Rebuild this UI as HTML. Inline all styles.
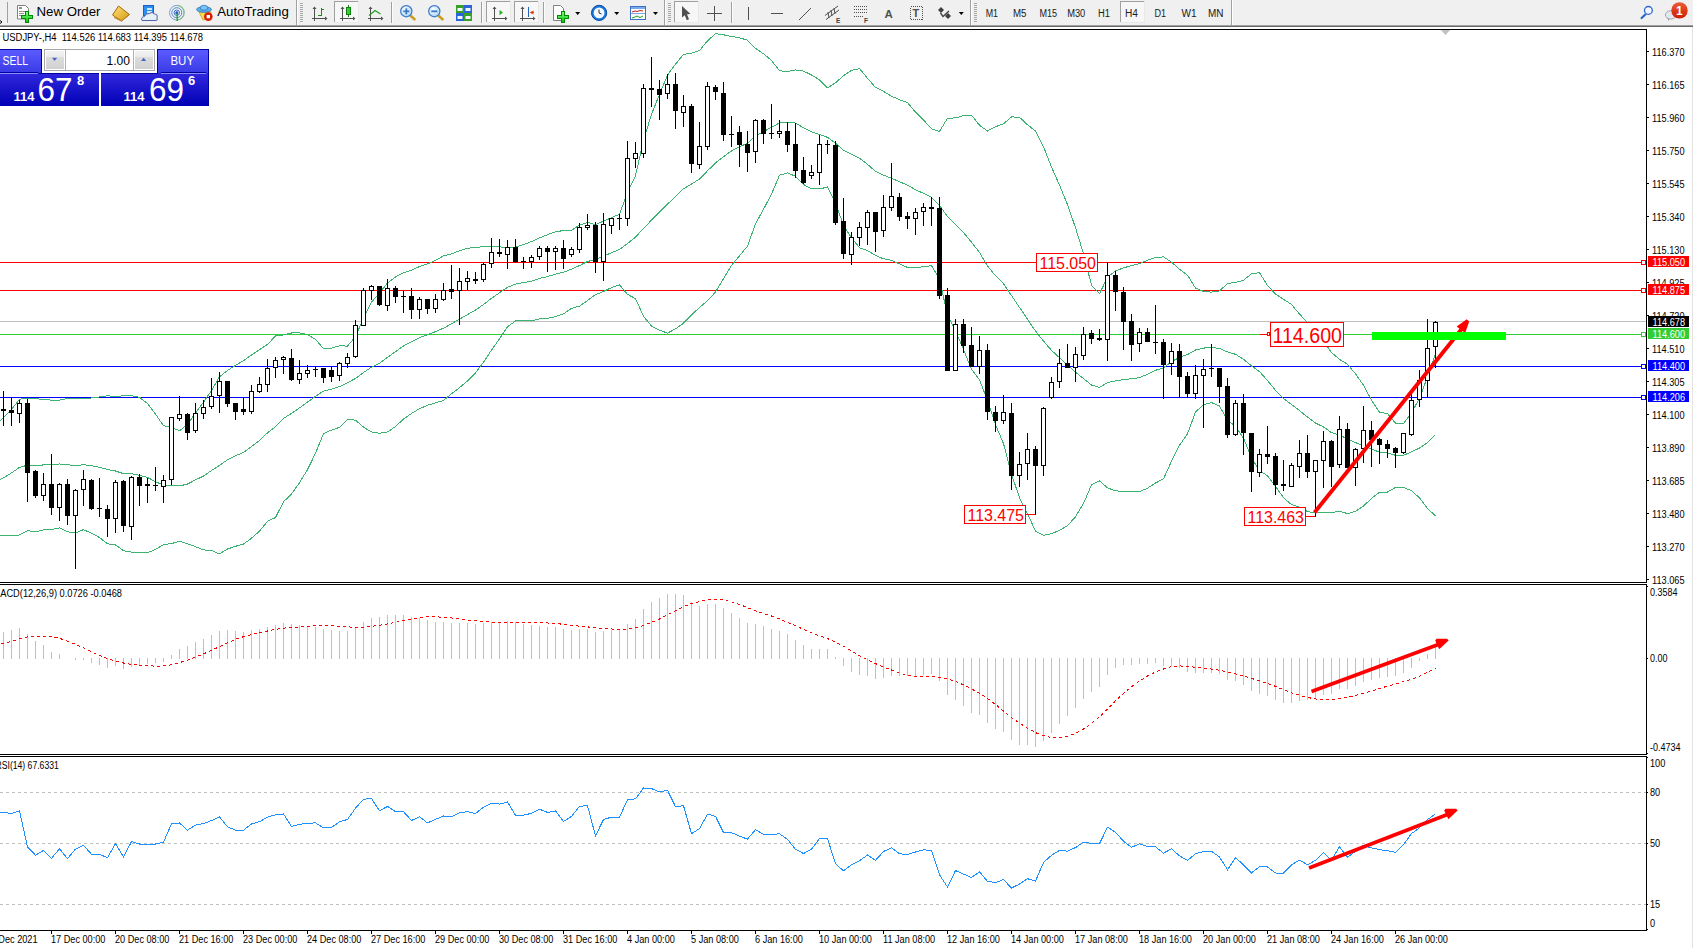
<!DOCTYPE html><html><head><meta charset="utf-8"><title>USDJPY-,H4</title><style>
html,body{margin:0;padding:0;background:#fff;}
#wrap{position:relative;width:1693px;height:948px;overflow:hidden;background:#fff;font-family:"Liberation Sans",Arial,sans-serif;}
svg{position:absolute;left:0;top:0;}
.t{font-family:"Liberation Sans",Arial,sans-serif;}
</style></head><body><div id="wrap">
<svg width="1693" height="29" viewBox="0 0 1693 29" style="position:absolute;left:0;top:0"><defs><linearGradient id="tbGold" x1="0" y1="0" x2="1" y2="1"><stop offset="0" stop-color="#ffe27a"/><stop offset="1" stop-color="#d49a10"/></linearGradient><linearGradient id="tbRed" x1="0" y1="0" x2="0" y2="1"><stop offset="0" stop-color="#ec5a38"/><stop offset="1" stop-color="#d01c00"/></linearGradient><radialGradient id="tbLens" cx="0.4" cy="0.35" r="0.7"><stop offset="0" stop-color="#ffffff"/><stop offset="1" stop-color="#a8d4f4"/></radialGradient><linearGradient id="tbGreen" x1="0" y1="0" x2="0" y2="1"><stop offset="0" stop-color="#7cff7c"/><stop offset="1" stop-color="#10c010"/></linearGradient></defs><rect x="0" y="0" width="1693" height="25" fill="#f0f0f0"/><rect x="0" y="25" width="1693" height="1" fill="#a0a0a0"/><rect x="0" y="26" width="1693" height="1" fill="#696969"/><rect x="0" y="27" width="1693" height="2" fill="#ffffff"/><g shape-rendering="crispEdges"><rect x="7" y="2" width="1" height="21" fill="#a0a0a0"/><rect x="296" y="0" width="1" height="25" fill="#a0a0a0"/><rect x="297" y="0" width="1" height="25" fill="#ffffff"/><rect x="300" y="3" width="3" height="1" fill="#a8a8a8"/><rect x="300" y="5" width="3" height="1" fill="#a8a8a8"/><rect x="300" y="7" width="3" height="1" fill="#a8a8a8"/><rect x="300" y="9" width="3" height="1" fill="#a8a8a8"/><rect x="300" y="11" width="3" height="1" fill="#a8a8a8"/><rect x="300" y="13" width="3" height="1" fill="#a8a8a8"/><rect x="300" y="15" width="3" height="1" fill="#a8a8a8"/><rect x="300" y="17" width="3" height="1" fill="#a8a8a8"/><rect x="300" y="19" width="3" height="1" fill="#a8a8a8"/><rect x="300" y="21" width="3" height="1" fill="#a8a8a8"/><rect x="391" y="2" width="1" height="21" fill="#a0a0a0"/><rect x="392" y="2" width="1" height="21" fill="#fcfcfc"/><rect x="481" y="2" width="1" height="21" fill="#a0a0a0"/><rect x="482" y="2" width="1" height="21" fill="#fcfcfc"/><rect x="543" y="2" width="1" height="21" fill="#a0a0a0"/><rect x="544" y="2" width="1" height="21" fill="#fcfcfc"/><rect x="664" y="0" width="1" height="25" fill="#a0a0a0"/><rect x="665" y="0" width="1" height="25" fill="#ffffff"/><rect x="668" y="3" width="3" height="1" fill="#a8a8a8"/><rect x="668" y="5" width="3" height="1" fill="#a8a8a8"/><rect x="668" y="7" width="3" height="1" fill="#a8a8a8"/><rect x="668" y="9" width="3" height="1" fill="#a8a8a8"/><rect x="668" y="11" width="3" height="1" fill="#a8a8a8"/><rect x="668" y="13" width="3" height="1" fill="#a8a8a8"/><rect x="668" y="15" width="3" height="1" fill="#a8a8a8"/><rect x="668" y="17" width="3" height="1" fill="#a8a8a8"/><rect x="668" y="19" width="3" height="1" fill="#a8a8a8"/><rect x="668" y="21" width="3" height="1" fill="#a8a8a8"/><rect x="731" y="2" width="1" height="21" fill="#a0a0a0"/><rect x="732" y="2" width="1" height="21" fill="#fcfcfc"/><rect x="970" y="0" width="1" height="25" fill="#a0a0a0"/><rect x="971" y="0" width="1" height="25" fill="#ffffff"/><rect x="974" y="3" width="3" height="1" fill="#a8a8a8"/><rect x="974" y="5" width="3" height="1" fill="#a8a8a8"/><rect x="974" y="7" width="3" height="1" fill="#a8a8a8"/><rect x="974" y="9" width="3" height="1" fill="#a8a8a8"/><rect x="974" y="11" width="3" height="1" fill="#a8a8a8"/><rect x="974" y="13" width="3" height="1" fill="#a8a8a8"/><rect x="974" y="15" width="3" height="1" fill="#a8a8a8"/><rect x="974" y="17" width="3" height="1" fill="#a8a8a8"/><rect x="974" y="19" width="3" height="1" fill="#a8a8a8"/><rect x="974" y="21" width="3" height="1" fill="#a8a8a8"/><rect x="1231" y="0" width="1" height="25" fill="#a0a0a0"/><rect x="1232" y="0" width="1" height="25" fill="#ffffff"/><rect x="334" y="1" width="25" height="22" fill="#f7f7f7"/><rect x="334" y="1" width="25" height="1" fill="#a0a0a0"/><rect x="334" y="1" width="1" height="22" fill="#a0a0a0"/><rect x="358" y="1" width="1" height="22" fill="#e8e8e8"/><rect x="334" y="22" width="25" height="1" fill="#e8e8e8"/><rect x="486" y="1" width="25" height="22" fill="#f7f7f7"/><rect x="486" y="1" width="25" height="1" fill="#a0a0a0"/><rect x="486" y="1" width="1" height="22" fill="#a0a0a0"/><rect x="510" y="1" width="1" height="22" fill="#e8e8e8"/><rect x="486" y="22" width="25" height="1" fill="#e8e8e8"/><rect x="514" y="1" width="25" height="22" fill="#f7f7f7"/><rect x="514" y="1" width="25" height="1" fill="#a0a0a0"/><rect x="514" y="1" width="1" height="22" fill="#a0a0a0"/><rect x="538" y="1" width="1" height="22" fill="#e8e8e8"/><rect x="514" y="22" width="25" height="1" fill="#e8e8e8"/><rect x="674" y="1" width="25" height="22" fill="#f7f7f7"/><rect x="674" y="1" width="25" height="1" fill="#a0a0a0"/><rect x="674" y="1" width="1" height="22" fill="#a0a0a0"/><rect x="698" y="1" width="1" height="22" fill="#e8e8e8"/><rect x="674" y="22" width="25" height="1" fill="#e8e8e8"/><rect x="1120" y="1" width="25" height="22" fill="#f7f7f7"/><rect x="1120" y="1" width="25" height="1" fill="#a0a0a0"/><rect x="1120" y="1" width="1" height="22" fill="#a0a0a0"/><rect x="1144" y="1" width="1" height="22" fill="#e8e8e8"/><rect x="1120" y="22" width="25" height="1" fill="#e8e8e8"/></g><polyline points="0,20.5 2,22 0,23.5" fill="none" stroke="#000" stroke-width="1"/><path d="M17.5 5.5h8l3 3v10.5h-11z" fill="#fff" stroke="#808080" stroke-width="1"/><g fill="#909090" shape-rendering="crispEdges"><rect x="19" y="7" width="3" height="2"/><rect x="19" y="11" width="6" height="1"/><rect x="19" y="13" width="5" height="1"/><rect x="19" y="15" width="4" height="1"/></g><g shape-rendering="crispEdges"><path fill="#008a00" d="M25 11h4v4h4v4h-4v4h-4v-4h-4v-4h4z"/><path fill="url(#tbGreen)" d="M26 12h2v4h4v2h-4v4h-2v-4h-4v-2h4z"/></g><text x="36.5" y="16" font-size="12.5" fill="#000" font-family="Liberation Sans, Arial, sans-serif" textLength="64" lengthAdjust="spacingAndGlyphs">New Order</text><polygon points="112.5,15 118.5,6 129.5,14.5 121.5,21" fill="url(#tbGold)" stroke="#a8680c" stroke-width="1"/><polyline points="114,17.5 121.5,21 129.5,14.5" fill="none" stroke="#c08020" stroke-width="1"/><rect x="143.5" y="5.5" width="10" height="10" fill="#2e8ef0" stroke="#1a60c0"/><rect x="147" y="8" width="5" height="2" fill="#cfe6ff"/><rect x="147" y="11" width="5" height="2" fill="#cfe6ff"/><path d="M142 20.5 q-1.5-3.5 2.5-4 q1-3.5 5-3 q2.5-2.5 5 0.5 q3.5 0 2.5 4 q1 2.5-1 2.5 z" fill="#e8eef8" stroke="#4866a8" stroke-width="1"/><g fill="none" stroke-width="1"><circle cx="176.8" cy="12.7" r="7.3" stroke="#7aa0d8"/><circle cx="176.8" cy="12.7" r="5" stroke="#5a88d0"/><circle cx="176.8" cy="12.7" r="2.7" stroke="#3a70c8"/></g><path d="M176.8 5.4 a7.3 7.3 0 0 1 0 14.6" fill="none" stroke="#8ac08a" stroke-width="1.2"/><circle cx="176.8" cy="12.7" r="1.5" fill="#2050c0"/><rect x="176.5" y="13" width="1.3" height="8" fill="#20a020"/><path d="M199 12 L211 12 L208 19 L203 20 Z" fill="#f8dc50" stroke="#c8a020" stroke-width="0.8"/><ellipse cx="204" cy="9.5" rx="7.5" ry="2.8" fill="#5aaee8" stroke="#2a78c0" stroke-width="0.8"/><ellipse cx="204" cy="7.8" rx="3.8" ry="2.5" fill="#7cc4f4" stroke="#2a78c0" stroke-width="0.8"/><circle cx="208.3" cy="16.6" r="4.3" fill="#d81c00"/><rect x="206.6" y="14.9" width="3.4" height="3.4" fill="#fff"/><text x="217.3" y="15.8" font-size="12.5" fill="#000" font-family="Liberation Sans, Arial, sans-serif" textLength="71.5" lengthAdjust="spacingAndGlyphs">AutoTrading</text><g fill="#505050"><rect x="314" y="7" width="1" height="14"/><rect x="312" y="18" width="14" height="1"/><polygon points="312.5,9 314.5,6.5 316.5,9"/><polygon points="325,16.5 327.5,18.5 325,20.5"/></g><g fill="#109010"><rect x="321" y="8" width="1" height="8"/><rect x="318" y="15" width="3" height="1"/><rect x="322" y="9" width="2" height="1"/></g><g fill="#505050"><rect x="342" y="7" width="1" height="14"/><rect x="340" y="18" width="14" height="1"/><polygon points="340.5,9 342.5,6.5 344.5,9"/><polygon points="353,16.5 355.5,18.5 353,20.5"/></g><rect x="348" y="5" width="1" height="12" fill="#108010"/><rect x="346.5" y="7.5" width="4" height="7" fill="#30d030" stroke="#108010"/><g fill="#505050"><rect x="370" y="7" width="1" height="14"/><rect x="368" y="18" width="14" height="1"/><polygon points="368.5,9 370.5,6.5 372.5,9"/><polygon points="381,16.5 383.5,18.5 381,20.5"/></g><polyline points="369,15.5 375,10.5 380.5,14" fill="none" stroke="#20a020" stroke-width="1.2"/><line x1="409.8" y1="15" x2="415.3" y2="20" stroke="#c8a020" stroke-width="2.6"/><circle cx="406.3" cy="11.2" r="5.6" fill="url(#tbLens)" stroke="#3a78c8" stroke-width="1.2"/><rect x="403.3" y="10.4" width="6" height="1.8" fill="#3a78c8"/><rect x="405.40000000000003" y="8.3" width="1.8" height="6" fill="#3a78c8"/><line x1="437.8" y1="15" x2="443.3" y2="20" stroke="#c8a020" stroke-width="2.6"/><circle cx="434.3" cy="11.2" r="5.6" fill="url(#tbLens)" stroke="#3a78c8" stroke-width="1.2"/><rect x="431.3" y="10.4" width="6" height="1.8" fill="#3a78c8"/><rect x="456" y="5" width="8" height="8" fill="#38a028"/><rect x="457.5" y="8" width="5" height="3" fill="#f0f6ff"/><rect x="464" y="5" width="8" height="8" fill="#2a64d8"/><rect x="465.5" y="8" width="5" height="3" fill="#f0f6ff"/><rect x="456" y="13" width="8" height="8" fill="#2a64d8"/><rect x="457.5" y="16" width="5" height="3" fill="#f0f6ff"/><rect x="464" y="13" width="8" height="8" fill="#38a028"/><rect x="465.5" y="16" width="5" height="3" fill="#f0f6ff"/><g fill="#505050"><rect x="494" y="7" width="1" height="14"/><rect x="492" y="18" width="14" height="1"/><polygon points="492.5,9 494.5,6.5 496.5,9"/><polygon points="505,16.5 507.5,18.5 505,20.5"/></g><polygon points="499.5,10 503,12.6 499.5,15.2" fill="#20b020"/><g fill="#505050"><rect x="522" y="7" width="1" height="14"/><rect x="520" y="18" width="14" height="1"/><polygon points="520.5,9 522.5,6.5 524.5,9"/><polygon points="533,16.5 535.5,18.5 533,20.5"/></g><rect x="528" y="7" width="1" height="10" fill="#2060c0"/><polygon points="529.5,12.5 533.5,10.5 533.5,14.5" fill="#e04010"/><rect x="531" y="12" width="3" height="1" fill="#e04010"/><path d="M553.5 5.5h7l3 3v12h-10z" fill="#fff" stroke="#808080" stroke-width="1"/><g shape-rendering="crispEdges"><path fill="#008a00" d="M561 11h4v4h4v4h-4v4h-4v-4h-4v-4h4z"/><path fill="url(#tbGreen)" d="M562 12h2v4h4v2h-4v4h-2v-4h-4v-2h4z"/></g><polygon points="575.2,12 580.2,12 577.7,15" fill="#000"/><circle cx="599.1" cy="12.9" r="7.6" fill="#1a78e0" stroke="#0a4aa0" stroke-width="1"/><circle cx="599.1" cy="12.9" r="5.4" fill="#f4f8ff"/><polyline points="599,9.5 599,13 601.5,14" fill="none" stroke="#303030" stroke-width="1"/><polygon points="614.2,12 619.2,12 616.7,15" fill="#000"/><rect x="630.5" y="6.5" width="15" height="13" fill="#fff" stroke="#3a70c8"/><rect x="631" y="7" width="14" height="2" fill="#7aa8e8"/><rect x="631" y="13" width="14" height="1" fill="#7aa8e8"/><polyline points="632,12 635,11 637,11.5 640,10.5 643,11" fill="none" stroke="#c02010" stroke-width="1"/><polyline points="632,18 635,17 637,16 640,17.5 643,16" fill="none" stroke="#20a020" stroke-width="1"/><polygon points="653,12 658,12 655.5,15" fill="#000"/><polygon points="682,6 690.5,14 687,14.3 689,19.3 686.8,20.2 684.8,15.2 682,17.5" fill="#505050"/><g fill="#505050" shape-rendering="crispEdges"><rect x="707" y="13" width="15" height="1"/><rect x="714" y="6" width="1" height="15"/></g><rect x="748" y="7" width="1" height="13" fill="#505050" shape-rendering="crispEdges"/><rect x="771" y="13" width="12" height="1" fill="#505050" shape-rendering="crispEdges"/><line x1="799" y1="20" x2="811" y2="8" stroke="#505050" stroke-width="1"/><g stroke="#505050" stroke-width="1"><line x1="825" y1="15.5" x2="838" y2="6"/><line x1="826" y1="19.5" x2="839" y2="10"/><line x1="828" y1="12" x2="829" y2="18"/><line x1="831" y1="10" x2="832" y2="16"/><line x1="834" y1="8" x2="835" y2="14"/></g><text x="836" y="22.5" font-size="6.5" fill="#404040" font-family="Liberation Sans, Arial, sans-serif" font-weight="bold">E</text><g fill="none" stroke="#505050" stroke-width="1" stroke-dasharray="1 1" shape-rendering="crispEdges"><line x1="854" y1="6.5" x2="867" y2="6.5"/><line x1="854" y1="9.5" x2="867" y2="9.5"/><line x1="854" y1="12.5" x2="867" y2="12.5"/><line x1="854" y1="16.5" x2="863" y2="16.5"/></g><text x="864" y="22.5" font-size="6.5" fill="#404040" font-family="Liberation Sans, Arial, sans-serif" font-weight="bold">F</text><text x="884.5" y="17.5" font-size="11.5" fill="#505050" font-family="Liberation Sans, Arial, sans-serif" font-weight="bold">A</text><rect x="910.5" y="6.5" width="12" height="13" fill="none" stroke="#505050" stroke-dasharray="1 1" shape-rendering="crispEdges"/><text x="912.5" y="17" font-size="11" fill="#505050" font-family="Liberation Sans, Arial, sans-serif" font-weight="bold">T</text><polygon points="941,7 944,10 941,13 938,10" fill="#404040"/><polygon points="948,13 951,16 948,19 945,16" fill="#404040"/><polyline points="940.5,13 943,16.5 949,11" fill="none" stroke="#404040" stroke-width="1.3"/><polygon points="958.8,12 963.8,12 961.3,15" fill="#000"/><text x="985.7" y="17" font-size="10" fill="#202020" font-family="Liberation Sans, Arial, sans-serif" textLength="12.3" lengthAdjust="spacingAndGlyphs">M1</text><text x="1013" y="17" font-size="10" fill="#202020" font-family="Liberation Sans, Arial, sans-serif" textLength="13.5" lengthAdjust="spacingAndGlyphs">M5</text><text x="1039.4" y="17" font-size="10" fill="#202020" font-family="Liberation Sans, Arial, sans-serif" textLength="17.6" lengthAdjust="spacingAndGlyphs">M15</text><text x="1067.2" y="17" font-size="10" fill="#202020" font-family="Liberation Sans, Arial, sans-serif" textLength="18.1" lengthAdjust="spacingAndGlyphs">M30</text><text x="1098" y="17" font-size="10" fill="#202020" font-family="Liberation Sans, Arial, sans-serif" textLength="12" lengthAdjust="spacingAndGlyphs">H1</text><text x="1125" y="17" font-size="10" fill="#202020" font-family="Liberation Sans, Arial, sans-serif" textLength="13" lengthAdjust="spacingAndGlyphs">H4</text><text x="1154.4" y="17" font-size="10" fill="#202020" font-family="Liberation Sans, Arial, sans-serif" textLength="11.6" lengthAdjust="spacingAndGlyphs">D1</text><text x="1181.5" y="17" font-size="10" fill="#202020" font-family="Liberation Sans, Arial, sans-serif" textLength="15.1" lengthAdjust="spacingAndGlyphs">W1</text><text x="1208" y="17" font-size="10" fill="#202020" font-family="Liberation Sans, Arial, sans-serif" textLength="15.5" lengthAdjust="spacingAndGlyphs">MN</text><line x1="1645.6" y1="14.3" x2="1641.6" y2="18" stroke="#2a64d0" stroke-width="2.2" stroke-linecap="round"/><circle cx="1648.4" cy="10.4" r="3.9" fill="#f4f6ff" stroke="#2a64d0" stroke-width="1.3"/><ellipse cx="1670.8" cy="14.9" rx="5.4" ry="4.2" fill="#e4e6f0" stroke="#a0a0a0" stroke-width="0.9"/><polygon points="1667.5,18 1669.5,18.5 1668.3,21.3" fill="#a0a0a0"/><circle cx="1679.5" cy="10.4" r="8.2" fill="url(#tbRed)"/><text x="1676" y="15.3" font-size="12" fill="#fff" font-family="Liberation Sans, Arial, sans-serif" font-weight="bold">1</text></svg>
<svg width="1693" height="948" viewBox="0 0 1693 948" style="top:0;left:0"><g shape-rendering="crispEdges"><rect x="1692" y="27" width="1" height="921" fill="#e3e3e3"/><rect x="0" y="321" width="1646" height="1" fill="#c0c0c0" /><rect x="0" y="262" width="1642" height="1" fill="#ff0000" /><rect x="0" y="290" width="1642" height="1" fill="#ff0000" /><rect x="0" y="334" width="1642" height="1" fill="#32cd32" /><rect x="0" y="366" width="1642" height="1" fill="#0000ff" /><rect x="0" y="397" width="1642" height="1" fill="#0000ff" /></g><g shape-rendering="crispEdges" stroke="#c0c0c0" stroke-width="1" stroke-dasharray="3 3"><line x1="0" y1="792.5" x2="1646" y2="792.5"/><line x1="0" y1="843.5" x2="1646" y2="843.5"/><line x1="0" y1="904.5" x2="1646" y2="904.5"/></g><g fill="none" stroke="#3cb371" stroke-width="1" shape-rendering="crispEdges"><polyline points="-4.5,425.6 3.5,417.6 11.5,409.6 19.5,399.1 27.5,398.6 35.5,398.6 43.5,399.6 51.5,400.1 59.5,400.1 67.5,398.6 75.5,398.4 83.5,398.8 91.5,398.0 99.5,397.0 107.5,395.7 115.5,396.7 123.5,395.7 131.5,395.7 139.5,397.3 147.5,403.6 155.5,414.0 163.5,425.8 171.5,427.3 179.5,430.8 187.5,424.3 195.5,413.1 203.5,402.2 211.5,390.5 219.5,376.8 227.5,370.5 235.5,365.3 243.5,360.7 251.5,354.9 259.5,349.6 267.5,344.4 275.5,336.0 283.5,334.9 291.5,333.0 299.5,332.9 307.5,334.6 315.5,339.3 323.5,348.8 331.5,348.1 339.5,345.8 347.5,346.1 355.5,336.7 363.5,318.0 371.5,302.1 379.5,293.2 387.5,282.9 395.5,276.9 403.5,272.8 411.5,270.2 419.5,266.5 427.5,263.9 435.5,260.3 443.5,255.9 451.5,253.8 459.5,250.8 467.5,248.3 475.5,247.3 483.5,246.8 491.5,246.5 499.5,246.8 507.5,247.8 515.5,247.2 523.5,244.6 531.5,241.6 539.5,237.9 547.5,234.7 555.5,231.7 563.5,230.6 571.5,230.2 579.5,225.1 587.5,222.4 595.5,224.6 603.5,221.1 611.5,217.7 619.5,214.2 627.5,192.6 635.5,175.7 643.5,140.4 651.5,114.3 659.5,94.4 667.5,75.1 675.5,64.2 683.5,54.4 691.5,53.2 699.5,50.6 707.5,40.8 715.5,33.7 723.5,34.8 731.5,36.5 739.5,37.8 747.5,40.2 755.5,48.4 763.5,53.8 771.5,60.5 779.5,70.7 787.5,71.6 795.5,69.9 803.5,71.1 811.5,75.0 819.5,79.9 827.5,87.9 835.5,82.8 843.5,75.6 851.5,70.3 859.5,68.6 867.5,78.3 875.5,87.4 883.5,91.4 891.5,96.2 899.5,99.7 907.5,102.7 915.5,112.1 923.5,119.9 931.5,128.8 939.5,131.4 947.5,118.3 955.5,117.9 963.5,115.6 971.5,115.1 979.5,125.3 987.5,131.0 995.5,126.8 1003.5,123.8 1011.5,116.9 1019.5,117.3 1027.5,124.8 1035.5,131.0 1043.5,146.7 1051.5,167.1 1059.5,185.0 1067.5,204.7 1075.5,227.7 1083.5,253.7 1091.5,285.3 1099.5,293.7 1107.5,277.2 1115.5,271.0 1123.5,267.8 1131.5,265.7 1139.5,263.7 1147.5,260.2 1155.5,257.6 1163.5,256.9 1171.5,262.2 1179.5,269.2 1187.5,275.2 1195.5,288.1 1203.5,291.4 1211.5,292.1 1219.5,291.0 1227.5,283.5 1235.5,282.4 1243.5,280.3 1251.5,273.7 1259.5,272.7 1267.5,285.5 1275.5,294.1 1283.5,299.3 1291.5,304.5 1299.5,314.1 1307.5,322.6 1315.5,333.3 1323.5,341.0 1331.5,352.5 1339.5,359.3 1347.5,364.3 1355.5,373.9 1363.5,385.3 1371.5,400.1 1379.5,412.1 1387.5,413.6 1395.5,423.2 1403.5,423.4 1411.5,412.8 1419.5,398.3 1427.5,376.9 1435.5,353.3"/><polyline points="-4.5,481.6 3.5,477.9 11.5,472.9 19.5,467.4 27.5,465.2 35.5,465.8 43.5,464.9 51.5,464.7 59.5,464.0 67.5,464.7 75.5,465.6 83.5,464.7 91.5,465.6 99.5,467.4 107.5,469.5 115.5,471.0 123.5,473.7 131.5,473.7 139.5,475.3 147.5,477.4 155.5,481.7 163.5,485.2 171.5,485.4 179.5,486.0 187.5,484.0 195.5,479.9 203.5,476.1 211.5,470.5 219.5,465.4 227.5,459.8 235.5,455.8 243.5,452.4 251.5,446.6 259.5,440.4 267.5,432.9 275.5,426.8 283.5,418.4 291.5,413.4 299.5,407.9 307.5,402.1 315.5,396.3 323.5,391.1 331.5,389.1 339.5,386.6 347.5,382.8 355.5,378.4 363.5,372.6 371.5,367.1 379.5,363.2 387.5,357.4 395.5,351.7 403.5,345.9 411.5,341.9 419.5,337.6 427.5,334.6 435.5,331.6 443.5,328.2 451.5,323.8 459.5,319.2 467.5,314.6 475.5,310.1 483.5,304.5 491.5,298.3 499.5,292.8 507.5,287.3 515.5,284.1 523.5,282.6 531.5,281.2 539.5,278.4 547.5,276.6 555.5,274.1 563.5,272.2 571.5,269.2 579.5,265.6 587.5,261.5 595.5,259.6 603.5,256.3 611.5,252.7 619.5,249.5 627.5,243.5 635.5,237.2 643.5,228.3 651.5,220.2 659.5,212.2 667.5,204.1 675.5,196.6 683.5,188.8 691.5,184.1 699.5,179.0 707.5,170.8 715.5,162.9 723.5,156.7 731.5,150.9 739.5,146.8 747.5,143.2 755.5,136.1 763.5,131.6 771.5,127.3 779.5,123.0 787.5,122.2 795.5,123.1 803.5,127.8 811.5,131.9 819.5,134.4 827.5,137.4 835.5,143.1 843.5,150.4 851.5,154.1 859.5,158.2 867.5,164.4 875.5,171.4 883.5,175.1 891.5,178.2 899.5,181.8 907.5,185.1 915.5,189.7 923.5,193.4 931.5,197.2 939.5,205.3 947.5,216.7 955.5,224.3 963.5,232.5 971.5,242.2 979.5,252.5 987.5,265.9 995.5,275.8 1003.5,283.7 1011.5,295.6 1019.5,307.4 1027.5,319.3 1035.5,331.0 1043.5,341.1 1051.5,350.4 1059.5,357.7 1067.5,365.1 1075.5,372.2 1083.5,378.6 1091.5,385.1 1099.5,387.3 1107.5,382.6 1115.5,380.9 1123.5,379.7 1131.5,378.6 1139.5,377.7 1147.5,374.2 1155.5,370.3 1163.5,367.9 1171.5,361.7 1179.5,357.3 1187.5,354.5 1195.5,350.0 1203.5,348.1 1211.5,347.4 1219.5,348.5 1227.5,351.9 1235.5,354.3 1243.5,359.2 1251.5,365.9 1259.5,371.6 1267.5,380.6 1275.5,390.3 1283.5,398.5 1291.5,404.6 1299.5,410.6 1307.5,417.1 1315.5,423.0 1323.5,426.9 1331.5,432.6 1339.5,435.2 1347.5,438.9 1355.5,442.6 1363.5,445.7 1371.5,449.2 1379.5,452.1 1387.5,452.9 1395.5,455.3 1403.5,455.4 1411.5,451.8 1419.5,448.1 1427.5,442.7 1435.5,434.6"/><polyline points="-4.5,535.9 3.5,535.9 11.5,535.9 19.5,534.9 27.5,530.6 35.5,532.0 43.5,529.9 51.5,529.6 59.5,527.8 67.5,531.7 75.5,533.1 83.5,529.6 91.5,533.3 99.5,537.5 107.5,543.8 115.5,544.9 123.5,550.7 131.5,552.1 139.5,552.8 147.5,552.8 155.5,549.4 163.5,544.6 171.5,543.6 179.5,541.2 187.5,543.7 195.5,546.7 203.5,549.9 211.5,550.5 219.5,553.9 227.5,549.0 235.5,546.3 243.5,544.1 251.5,538.2 259.5,531.1 267.5,521.3 275.5,517.5 283.5,501.8 291.5,493.9 299.5,482.8 307.5,469.6 315.5,453.3 323.5,433.5 331.5,430.1 339.5,427.3 347.5,419.5 355.5,420.1 363.5,427.1 371.5,432.0 379.5,433.2 387.5,432.0 395.5,426.5 403.5,419.1 411.5,413.5 419.5,408.7 427.5,405.3 435.5,402.8 443.5,400.5 451.5,393.8 459.5,387.6 467.5,380.9 475.5,373.0 483.5,362.2 491.5,350.1 499.5,338.8 507.5,326.8 515.5,321.0 523.5,320.7 531.5,320.8 539.5,318.9 547.5,318.4 555.5,316.6 563.5,313.9 571.5,308.3 579.5,306.2 587.5,300.6 595.5,294.6 603.5,291.5 611.5,287.6 619.5,284.8 627.5,294.4 635.5,298.6 643.5,316.3 651.5,326.1 659.5,330.1 667.5,333.1 675.5,328.9 683.5,323.2 691.5,315.0 699.5,307.4 707.5,300.7 715.5,292.1 723.5,278.6 731.5,265.4 739.5,255.8 747.5,246.1 755.5,223.8 763.5,209.3 771.5,194.1 779.5,175.2 787.5,172.9 795.5,176.3 803.5,184.5 811.5,188.9 819.5,189.0 827.5,187.0 835.5,203.3 843.5,225.2 851.5,237.9 859.5,247.7 867.5,250.6 875.5,255.5 883.5,258.8 891.5,260.2 899.5,263.9 907.5,267.5 915.5,267.3 923.5,266.9 931.5,265.5 939.5,279.3 947.5,315.0 955.5,330.8 963.5,349.4 971.5,369.3 979.5,379.7 987.5,400.7 995.5,424.7 1003.5,443.6 1011.5,474.3 1019.5,497.6 1027.5,513.8 1035.5,531.0 1043.5,535.4 1051.5,533.6 1059.5,530.4 1067.5,525.6 1075.5,516.8 1083.5,503.5 1091.5,484.9 1099.5,480.9 1107.5,487.9 1115.5,490.8 1123.5,491.6 1131.5,491.5 1139.5,491.7 1147.5,488.2 1155.5,483.0 1163.5,478.9 1171.5,461.2 1179.5,445.4 1187.5,433.8 1195.5,411.9 1203.5,404.7 1211.5,402.6 1219.5,406.0 1227.5,420.2 1235.5,426.2 1243.5,438.1 1251.5,458.0 1259.5,470.5 1267.5,475.8 1275.5,486.5 1283.5,497.7 1291.5,504.6 1299.5,507.1 1307.5,511.6 1315.5,512.7 1323.5,512.7 1331.5,512.7 1339.5,511.2 1347.5,513.6 1355.5,511.4 1363.5,506.1 1371.5,498.4 1379.5,492.2 1387.5,492.1 1395.5,487.4 1403.5,487.3 1411.5,490.8 1419.5,497.9 1427.5,508.5 1435.5,515.9"/></g><g shape-rendering="crispEdges"><path fill="#000" d="M3 391h1v35h-1zM1 409h5v2h-5zM11 397h1v29h-1zM9 410h5v3h-5zM19 400h1v23h-1zM17 403h5v11h-5zM27 399h1v103h-1zM25 403h5v70h-5zM35 470h1v28h-1zM33 471h5v25h-5zM43 473h1v28h-1zM41 484h5v12h-5zM51 454h1v61h-1zM49 484h5v24h-5zM59 483h1v38h-1zM57 484h5v24h-5zM67 479h1v46h-1zM65 484h5v32h-5zM75 489h1v80h-1zM73 490h5v26h-5zM83 470h1v36h-1zM81 479h5v11h-5zM91 479h1v31h-1zM89 480h5v29h-5zM99 478h1v39h-1zM97 508h5v1h-5zM107 505h1v32h-1zM105 509h5v10h-5zM115 480h1v53h-1zM113 482h5v37h-5zM123 480h1v52h-1zM121 481h5v45h-5zM131 476h1v64h-1zM129 477h5v50h-5zM139 474h1v32h-1zM137 477h5v9h-5zM147 478h1v25h-1zM145 484h5v2h-5zM155 467h1v24h-1zM153 485h5v1h-5zM163 475h1v28h-1zM161 480h5v7h-5zM171 417h1v68h-1zM169 417h5v63h-5zM179 396h1v25h-1zM177 414h5v5h-5zM187 413h1v27h-1zM185 414h5v19h-5zM195 403h1v30h-1zM193 413h5v18h-5zM203 400h1v19h-1zM201 407h5v7h-5zM211 378h1v31h-1zM209 396h5v11h-5zM219 372h1v41h-1zM217 381h5v15h-5zM227 381h1v26h-1zM225 381h5v23h-5zM235 404h1v16h-1zM233 403h5v9h-5zM243 397h1v18h-1zM241 409h5v3h-5zM251 385h1v29h-1zM249 391h5v21h-5zM259 377h1v16h-1zM257 384h5v8h-5zM267 359h1v33h-1zM265 368h5v17h-5zM275 357h1v21h-1zM273 360h5v8h-5zM283 356h1v18h-1zM281 357h5v3h-5zM291 349h1v32h-1zM289 358h5v22h-5zM299 360h1v24h-1zM297 373h5v7h-5zM307 365h1v13h-1zM305 370h5v4h-5zM315 366h1v11h-1zM313 369h5v1h-5zM323 368h1v15h-1zM321 368h5v10h-5zM331 367h1v15h-1zM329 370h5v7h-5zM339 362h1v19h-1zM337 363h5v13h-5zM347 353h1v15h-1zM345 357h5v7h-5zM355 320h1v38h-1zM353 325h5v32h-5zM363 288h1v38h-1zM361 290h5v36h-5zM371 285h1v15h-1zM369 286h5v5h-5zM379 286h1v20h-1zM377 286h5v19h-5zM387 279h1v32h-1zM385 288h5v18h-5zM395 286h1v17h-1zM393 288h5v9h-5zM403 291h1v22h-1zM401 296h5v1h-5zM411 288h1v31h-1zM409 296h5v14h-5zM419 297h1v22h-1zM417 299h5v11h-5zM427 299h1v15h-1zM425 299h5v10h-5zM435 294h1v19h-1zM433 299h5v10h-5zM443 283h1v18h-1zM441 290h5v10h-5zM451 265h1v34h-1zM449 289h5v3h-5zM459 268h1v57h-1zM457 281h5v10h-5zM467 271h1v19h-1zM465 278h5v4h-5zM475 272h1v12h-1zM473 279h5v2h-5zM483 263h1v19h-1zM481 264h5v16h-5zM491 238h1v30h-1zM489 252h5v12h-5zM499 239h1v18h-1zM497 252h5v2h-5zM507 240h1v29h-1zM505 247h5v8h-5zM515 239h1v24h-1zM513 247h5v15h-5zM523 257h1v12h-1zM521 261h5v1h-5zM531 255h1v13h-1zM529 257h5v5h-5zM539 246h1v14h-1zM537 248h5v9h-5zM547 246h1v26h-1zM545 248h5v4h-5zM555 246h1v24h-1zM553 248h5v4h-5zM563 240h1v29h-1zM561 248h5v11h-5zM571 247h1v10h-1zM569 249h5v6h-5zM579 223h1v30h-1zM577 227h5v23h-5zM587 214h1v16h-1zM585 225h5v3h-5zM595 222h1v51h-1zM593 225h5v37h-5zM603 213h1v68h-1zM601 224h5v38h-5zM611 218h1v16h-1zM609 218h5v8h-5zM619 214h1v16h-1zM617 218h5v1h-5zM627 141h1v85h-1zM625 158h5v61h-5zM635 142h1v26h-1zM633 153h5v6h-5zM643 84h1v74h-1zM641 88h5v66h-5zM651 57h1v50h-1zM649 88h5v2h-5zM659 80h1v40h-1zM657 89h5v6h-5zM667 74h1v25h-1zM665 84h5v10h-5zM675 73h1v56h-1zM673 84h5v27h-5zM683 95h1v32h-1zM681 106h5v7h-5zM691 104h1v69h-1zM689 106h5v58h-5zM699 122h1v47h-1zM697 146h5v19h-5zM707 82h1v68h-1zM705 86h5v61h-5zM715 85h1v15h-1zM713 87h5v5h-5zM723 82h1v59h-1zM721 93h5v42h-5zM731 116h1v31h-1zM729 134h5v1h-5zM739 126h1v41h-1zM737 132h5v13h-5zM747 131h1v41h-1zM745 144h5v9h-5zM755 119h1v44h-1zM753 120h5v32h-5zM763 119h1v25h-1zM761 120h5v14h-5zM771 104h1v35h-1zM769 133h5v1h-5zM779 120h1v18h-1zM777 131h5v3h-5zM787 122h1v30h-1zM785 131h5v14h-5zM795 123h1v55h-1zM793 144h5v27h-5zM803 157h1v27h-1zM801 170h5v13h-5zM811 165h1v14h-1zM809 172h5v4h-5zM819 135h1v50h-1zM817 144h5v29h-5zM827 140h1v14h-1zM825 144h5v1h-5zM835 141h1v84h-1zM833 145h5v78h-5zM843 198h1v61h-1zM841 221h5v33h-5zM851 232h1v33h-1zM849 237h5v18h-5zM859 222h1v24h-1zM857 227h5v11h-5zM867 210h1v35h-1zM865 212h5v16h-5zM875 212h1v40h-1zM873 212h5v20h-5zM883 195h1v42h-1zM881 207h5v24h-5zM891 163h1v48h-1zM889 196h5v12h-5zM899 193h1v28h-1zM897 197h5v20h-5zM907 212h1v17h-1zM905 216h5v3h-5zM915 208h1v27h-1zM913 212h5v7h-5zM923 203h1v23h-1zM921 207h5v5h-5zM931 197h1v29h-1zM929 207h5v2h-5zM939 197h1v102h-1zM937 208h5v88h-5zM947 288h1v83h-1zM945 295h5v76h-5zM955 319h1v52h-1zM953 324h5v47h-5zM963 319h1v34h-1zM961 324h5v22h-5zM971 327h1v40h-1zM969 345h5v22h-5zM979 336h1v38h-1zM977 350h5v17h-5zM987 344h1v76h-1zM985 350h5v62h-5zM995 406h1v26h-1zM993 412h5v9h-5zM1003 395h1v29h-1zM1001 412h5v9h-5zM1011 403h1v87h-1zM1009 413h5v63h-5zM1019 452h1v35h-1zM1017 464h5v12h-5zM1027 433h1v47h-1zM1025 449h5v15h-5zM1035 446h1v69h-1zM1033 449h5v17h-5zM1043 407h1v69h-1zM1041 408h5v58h-5zM1051 377h1v22h-1zM1049 382h5v16h-5zM1059 349h1v39h-1zM1057 363h5v19h-5zM1067 344h1v24h-1zM1065 363h5v5h-5zM1075 347h1v35h-1zM1073 354h5v14h-5zM1083 327h1v33h-1zM1081 334h5v22h-5zM1091 330h1v14h-1zM1089 333h5v6h-5zM1099 329h1v12h-1zM1097 338h5v2h-5zM1107 262h1v99h-1zM1105 275h5v65h-5zM1115 271h1v40h-1zM1113 275h5v17h-5zM1123 287h1v63h-1zM1121 292h5v30h-5zM1131 314h1v47h-1zM1129 321h5v24h-5zM1139 328h1v24h-1zM1137 332h5v12h-5zM1147 328h1v14h-1zM1145 332h5v10h-5zM1155 305h1v49h-1zM1153 342h5v1h-5zM1163 339h1v60h-1zM1161 342h5v23h-5zM1171 343h1v32h-1zM1169 351h5v13h-5zM1179 344h1v53h-1zM1177 351h5v26h-5zM1187 372h1v26h-1zM1185 376h5v18h-5zM1195 365h1v34h-1zM1193 375h5v19h-5zM1203 359h1v69h-1zM1201 369h5v7h-5zM1211 344h1v33h-1zM1209 368h5v1h-5zM1219 368h1v35h-1zM1217 368h5v19h-5zM1227 378h1v60h-1zM1225 386h5v49h-5zM1235 400h1v36h-1zM1233 403h5v32h-5zM1243 394h1v61h-1zM1241 403h5v30h-5zM1251 433h1v59h-1zM1249 433h5v39h-5zM1259 449h1v28h-1zM1257 454h5v19h-5zM1267 426h1v38h-1zM1265 454h5v3h-5zM1275 453h1v42h-1zM1273 456h5v29h-5zM1283 460h1v31h-1zM1281 484h5v2h-5zM1291 463h1v24h-1zM1289 465h5v22h-5zM1299 440h1v38h-1zM1297 453h5v14h-5zM1307 435h1v43h-1zM1305 453h5v19h-5zM1315 460h1v57h-1zM1313 460h5v12h-5zM1323 431h1v57h-1zM1321 441h5v20h-5zM1331 440h1v47h-1zM1329 441h5v26h-5zM1339 416h1v52h-1zM1337 429h5v36h-5zM1347 423h1v45h-1zM1345 429h5v39h-5zM1355 448h1v38h-1zM1353 449h5v19h-5zM1363 406h1v57h-1zM1361 430h5v19h-5zM1371 421h1v46h-1zM1369 430h5v10h-5zM1379 438h1v26h-1zM1377 439h5v6h-5zM1387 440h1v18h-1zM1385 444h5v5h-5zM1395 447h1v21h-1zM1393 448h5v5h-5zM1403 433h1v21h-1zM1401 433h5v20h-5zM1411 394h1v42h-1zM1409 400h5v35h-5zM1419 370h1v37h-1zM1417 380h5v20h-5zM1427 319h1v79h-1zM1425 348h5v33h-5zM1435 321h1v47h-1zM1433 322h5v25h-5z"/><path fill="#fff" d="M18 404h3v9h-3zM42 485h3v10h-3zM58 485h3v22h-3zM74 491h3v24h-3zM82 480h3v9h-3zM114 483h3v35h-3zM130 478h3v48h-3zM162 481h3v5h-3zM170 418h3v61h-3zM178 415h3v3h-3zM194 414h3v16h-3zM202 408h3v5h-3zM210 397h3v9h-3zM218 382h3v13h-3zM250 392h3v19h-3zM258 385h3v6h-3zM266 369h3v15h-3zM274 361h3v6h-3zM282 358h3v1h-3zM298 374h3v5h-3zM306 371h3v2h-3zM338 364h3v11h-3zM346 358h3v5h-3zM354 326h3v30h-3zM362 291h3v34h-3zM370 287h3v3h-3zM386 289h3v16h-3zM418 300h3v9h-3zM434 300h3v8h-3zM442 291h3v8h-3zM458 282h3v8h-3zM466 279h3v2h-3zM482 265h3v14h-3zM490 253h3v10h-3zM506 248h3v6h-3zM530 258h3v3h-3zM538 249h3v7h-3zM554 249h3v2h-3zM570 250h3v4h-3zM578 228h3v21h-3zM586 226h3v1h-3zM602 225h3v36h-3zM610 219h3v6h-3zM626 159h3v59h-3zM634 154h3v4h-3zM642 89h3v64h-3zM666 85h3v8h-3zM682 107h3v5h-3zM698 147h3v17h-3zM706 87h3v59h-3zM754 121h3v30h-3zM778 132h3v1h-3zM810 173h3v2h-3zM818 145h3v27h-3zM850 238h3v16h-3zM858 228h3v9h-3zM866 213h3v14h-3zM882 208h3v22h-3zM890 197h3v10h-3zM914 213h3v5h-3zM922 208h3v3h-3zM954 325h3v45h-3zM978 351h3v15h-3zM1002 413h3v7h-3zM1018 465h3v10h-3zM1026 450h3v13h-3zM1042 409h3v56h-3zM1050 383h3v14h-3zM1058 364h3v17h-3zM1074 355h3v12h-3zM1082 335h3v20h-3zM1106 276h3v63h-3zM1138 333h3v10h-3zM1170 352h3v11h-3zM1194 376h3v17h-3zM1202 370h3v5h-3zM1234 404h3v30h-3zM1258 455h3v17h-3zM1290 466h3v20h-3zM1298 454h3v12h-3zM1314 461h3v10h-3zM1322 442h3v18h-3zM1338 430h3v34h-3zM1354 450h3v17h-3zM1362 431h3v17h-3zM1402 434h3v18h-3zM1410 401h3v33h-3zM1418 381h3v18h-3zM1426 349h3v31h-3zM1434 323h3v23h-3z"/></g><path shape-rendering="crispEdges" fill="#c0c0c0" d="M3 632h1v27h-1zM11 630h1v29h-1zM19 628h1v31h-1zM27 634h1v25h-1zM35 641h1v18h-1zM43 645h1v14h-1zM51 652h1v7h-1zM59 654h1v5h-1zM75 658h1v2h-1zM83 658h1v2h-1zM91 658h1v5h-1zM99 658h1v7h-1zM107 658h1v10h-1zM115 658h1v8h-1zM123 658h1v11h-1zM131 658h1v9h-1zM139 658h1v7h-1zM147 658h1v6h-1zM155 658h1v5h-1zM163 658h1v4h-1zM171 655h1v4h-1zM179 649h1v10h-1zM187 646h1v13h-1zM195 642h1v17h-1zM203 639h1v20h-1zM211 635h1v24h-1zM219 631h1v28h-1zM227 630h1v29h-1zM235 631h1v28h-1zM243 632h1v27h-1zM251 630h1v29h-1zM259 629h1v30h-1zM267 627h1v32h-1zM275 625h1v34h-1zM283 623h1v36h-1zM291 624h1v35h-1zM299 625h1v34h-1zM307 626h1v33h-1zM315 627h1v32h-1zM323 629h1v30h-1zM331 630h1v29h-1zM339 631h1v28h-1zM347 631h1v28h-1zM355 628h1v31h-1zM363 622h1v37h-1zM371 618h1v41h-1zM379 617h1v42h-1zM387 615h1v44h-1zM395 615h1v44h-1zM403 615h1v44h-1zM411 617h1v42h-1zM419 618h1v41h-1zM427 620h1v39h-1zM435 622h1v37h-1zM443 622h1v37h-1zM451 623h1v36h-1zM459 623h1v36h-1zM467 623h1v36h-1zM475 624h1v35h-1zM483 623h1v36h-1zM491 622h1v37h-1zM499 622h1v37h-1zM507 621h1v38h-1zM515 622h1v37h-1zM523 624h1v35h-1zM531 625h1v34h-1zM539 626h1v33h-1zM547 627h1v32h-1zM555 627h1v32h-1zM563 629h1v30h-1zM571 630h1v29h-1zM579 629h1v30h-1zM587 629h1v30h-1zM595 632h1v27h-1zM603 631h1v28h-1zM611 630h1v29h-1zM619 630h1v29h-1zM627 624h1v35h-1zM635 619h1v40h-1zM643 609h1v50h-1zM651 602h1v57h-1zM659 598h1v61h-1zM667 594h1v65h-1zM675 594h1v65h-1zM683 595h1v64h-1zM691 602h1v57h-1zM699 606h1v53h-1zM707 604h1v55h-1zM715 604h1v55h-1zM723 608h1v51h-1zM731 613h1v46h-1zM739 618h1v41h-1zM747 623h1v36h-1zM755 624h1v35h-1zM763 626h1v33h-1zM771 629h1v30h-1zM779 631h1v28h-1zM787 634h1v25h-1zM795 640h1v19h-1zM803 645h1v14h-1zM811 649h1v10h-1zM819 649h1v10h-1zM827 649h1v10h-1zM835 657h1v2h-1zM843 658h1v8h-1zM851 658h1v14h-1zM859 658h1v17h-1zM867 658h1v18h-1zM875 658h1v21h-1zM883 658h1v20h-1zM891 658h1v18h-1zM899 658h1v18h-1zM907 658h1v18h-1zM915 658h1v18h-1zM923 658h1v17h-1zM931 658h1v16h-1zM939 658h1v23h-1zM947 658h1v37h-1zM955 658h1v42h-1zM963 658h1v48h-1zM971 658h1v55h-1zM979 658h1v57h-1zM987 658h1v65h-1zM995 658h1v71h-1zM1003 658h1v74h-1zM1011 658h1v82h-1zM1019 658h1v87h-1zM1027 658h1v87h-1zM1035 658h1v89h-1zM1043 658h1v83h-1zM1051 658h1v75h-1zM1059 658h1v66h-1zM1067 658h1v58h-1zM1075 658h1v50h-1zM1083 658h1v41h-1zM1091 658h1v34h-1zM1099 658h1v29h-1zM1107 658h1v17h-1zM1115 658h1v10h-1zM1123 658h1v7h-1zM1131 658h1v7h-1zM1139 658h1v6h-1zM1147 658h1v6h-1zM1155 658h1v5h-1zM1163 658h1v8h-1zM1171 658h1v8h-1zM1179 658h1v10h-1zM1187 658h1v14h-1zM1195 658h1v15h-1zM1203 658h1v15h-1zM1211 658h1v15h-1zM1219 658h1v16h-1zM1227 658h1v22h-1zM1235 658h1v23h-1zM1243 658h1v27h-1zM1251 658h1v33h-1zM1259 658h1v36h-1zM1267 658h1v38h-1zM1275 658h1v42h-1zM1283 658h1v45h-1zM1291 658h1v45h-1zM1299 658h1v43h-1zM1307 658h1v42h-1zM1315 658h1v41h-1zM1323 658h1v37h-1zM1331 658h1v36h-1zM1339 658h1v31h-1zM1347 658h1v31h-1zM1355 658h1v28h-1zM1363 658h1v24h-1zM1371 658h1v22h-1zM1379 658h1v20h-1zM1387 658h1v19h-1zM1395 658h1v18h-1zM1403 658h1v15h-1zM1411 658h1v10h-1zM1419 658h1v3h-1zM1427 654h1v5h-1zM1435 644h1v15h-1z"/><polyline fill="none" stroke="#ff0000" stroke-width="1" stroke-dasharray="3 3" shape-rendering="crispEdges" points="-4.5,644.5 3.5,643.3 11.5,641.5 19.5,638.8 27.5,636.9 35.5,636.9 43.5,636.9 51.5,636.9 59.5,638.3 67.5,641.1 75.5,644.4 83.5,647.8 91.5,651.8 99.5,655.4 107.5,658.5 115.5,661.0 123.5,663.0 131.5,664.5 139.5,665.3 147.5,665.8 155.5,666.1 163.5,666.0 171.5,664.8 179.5,662.6 187.5,660.2 195.5,657.1 203.5,653.9 211.5,650.4 219.5,646.6 227.5,642.9 235.5,639.3 243.5,636.7 251.5,634.6 259.5,632.7 267.5,631.0 275.5,629.4 283.5,628.1 291.5,627.4 299.5,626.9 307.5,626.3 315.5,625.8 323.5,625.6 331.5,625.8 339.5,626.2 347.5,626.8 355.5,627.4 363.5,627.1 371.5,626.3 379.5,625.3 387.5,623.9 395.5,622.4 403.5,620.7 411.5,619.1 419.5,617.7 427.5,616.9 435.5,616.8 443.5,617.3 451.5,618.0 459.5,618.9 467.5,619.9 475.5,620.9 483.5,621.6 491.5,622.1 499.5,622.2 507.5,622.2 515.5,622.2 523.5,622.3 531.5,622.5 539.5,622.8 547.5,623.0 555.5,623.5 563.5,624.3 571.5,625.3 579.5,626.2 587.5,626.9 595.5,627.8 603.5,628.4 611.5,629.0 619.5,629.4 627.5,629.0 635.5,627.8 643.5,625.5 651.5,622.4 659.5,619.0 667.5,614.7 675.5,610.6 683.5,606.6 691.5,603.5 699.5,601.6 707.5,599.9 715.5,599.3 723.5,600.1 731.5,601.7 739.5,604.4 747.5,607.6 755.5,610.8 763.5,613.5 771.5,616.0 779.5,619.0 787.5,622.3 795.5,625.8 803.5,629.4 811.5,632.9 819.5,635.8 827.5,638.6 835.5,642.1 843.5,646.3 851.5,651.0 859.5,655.7 867.5,659.8 875.5,663.6 883.5,667.0 891.5,670.0 899.5,673.1 907.5,675.4 915.5,676.5 923.5,676.8 931.5,676.6 939.5,677.2 947.5,679.0 955.5,681.5 963.5,684.9 971.5,688.9 979.5,693.3 987.5,698.5 995.5,704.5 1003.5,711.1 1011.5,717.6 1019.5,723.1 1027.5,728.1 1035.5,732.6 1043.5,735.7 1051.5,737.7 1059.5,737.8 1067.5,736.3 1075.5,733.6 1083.5,729.1 1091.5,723.3 1099.5,716.8 1107.5,708.9 1115.5,700.8 1123.5,693.3 1131.5,686.8 1139.5,681.0 1147.5,676.0 1155.5,672.0 1163.5,669.0 1171.5,666.7 1179.5,665.9 1187.5,666.4 1195.5,667.3 1203.5,668.1 1211.5,669.1 1219.5,670.3 1227.5,672.1 1235.5,673.8 1243.5,675.9 1251.5,678.4 1259.5,680.8 1267.5,683.4 1275.5,686.4 1283.5,689.7 1291.5,692.9 1299.5,695.2 1307.5,697.4 1315.5,699.0 1323.5,699.4 1331.5,699.4 1339.5,698.6 1347.5,697.4 1355.5,695.5 1363.5,693.3 1371.5,691.0 1379.5,688.5 1387.5,686.1 1395.5,684.0 1403.5,681.7 1411.5,679.3 1419.5,676.2 1427.5,672.4 1435.5,668.1"/><polyline fill="none" stroke="#1e90ff" stroke-width="1" shape-rendering="crispEdges" points="-4.5,811.7 3.5,812.3 11.5,813.6 19.5,810.7 27.5,847.0 35.5,855.2 43.5,850.5 51.5,858.3 59.5,848.8 67.5,858.7 75.5,849.1 83.5,845.1 91.5,854.4 99.5,854.4 107.5,857.6 115.5,843.7 123.5,856.9 131.5,841.6 139.5,844.0 147.5,844.0 155.5,844.0 163.5,842.2 171.5,823.7 179.5,823.0 187.5,830.2 195.5,825.1 203.5,823.5 211.5,820.6 219.5,816.8 227.5,826.8 235.5,830.2 243.5,830.2 251.5,823.9 259.5,821.7 267.5,817.1 275.5,814.8 283.5,814.0 291.5,826.4 299.5,824.3 307.5,823.2 315.5,822.9 323.5,827.9 331.5,827.5 339.5,821.8 347.5,819.4 355.5,808.2 363.5,799.3 371.5,798.5 379.5,810.8 387.5,806.4 395.5,811.7 403.5,811.7 411.5,820.5 419.5,816.8 427.5,822.9 435.5,819.4 443.5,816.0 451.5,816.7 459.5,812.9 467.5,811.7 475.5,813.5 483.5,807.2 491.5,803.1 499.5,804.1 507.5,802.0 515.5,815.2 523.5,815.2 531.5,813.3 539.5,809.2 547.5,812.4 555.5,810.9 563.5,821.5 571.5,816.4 579.5,806.4 587.5,805.6 595.5,835.9 603.5,819.4 611.5,817.2 619.5,817.2 627.5,799.8 635.5,798.8 643.5,788.0 651.5,788.6 659.5,791.9 667.5,790.3 675.5,806.6 683.5,805.7 691.5,833.7 699.5,828.6 707.5,814.2 715.5,816.3 723.5,832.6 731.5,832.6 739.5,836.2 747.5,839.1 755.5,829.6 763.5,834.5 771.5,834.5 779.5,833.8 787.5,839.3 795.5,849.3 803.5,853.5 811.5,849.3 819.5,838.5 827.5,838.5 835.5,863.8 843.5,870.8 851.5,864.6 859.5,860.7 867.5,855.1 875.5,860.3 883.5,851.5 891.5,847.7 899.5,853.8 907.5,854.4 915.5,852.0 923.5,849.9 931.5,850.3 939.5,874.8 947.5,887.1 955.5,870.6 963.5,874.1 971.5,877.5 979.5,871.9 987.5,881.3 995.5,882.5 1003.5,879.6 1011.5,888.0 1019.5,884.1 1027.5,878.7 1035.5,881.1 1043.5,862.5 1051.5,855.3 1059.5,850.3 1067.5,851.2 1075.5,847.6 1083.5,842.2 1091.5,843.3 1099.5,843.6 1107.5,827.2 1115.5,832.2 1123.5,841.1 1131.5,847.3 1139.5,843.9 1147.5,846.5 1155.5,846.8 1163.5,853.2 1171.5,848.7 1179.5,855.9 1187.5,860.4 1195.5,853.8 1203.5,851.6 1211.5,851.3 1219.5,857.0 1227.5,869.7 1235.5,857.7 1243.5,864.8 1251.5,872.9 1259.5,866.6 1267.5,867.0 1275.5,873.0 1283.5,873.2 1291.5,864.9 1299.5,860.1 1307.5,864.8 1315.5,860.3 1323.5,852.8 1331.5,860.1 1339.5,846.8 1347.5,857.3 1355.5,851.3 1363.5,845.3 1371.5,848.0 1379.5,849.6 1387.5,850.8 1395.5,852.2 1403.5,844.8 1411.5,833.6 1419.5,827.8 1427.5,819.6 1435.5,813.8"/><g shape-rendering="crispEdges" fill="#000"><rect x="0" y="29" width="1647" height="1"/><rect x="1646" y="29" width="1" height="554"/><rect x="1646" y="584" width="1" height="171"/><rect x="1646" y="756" width="1" height="175"/><rect x="0" y="582" width="1647" height="1"/><rect x="0" y="584" width="1647" height="1"/><rect x="0" y="754" width="1647" height="1"/><rect x="0" y="756" width="1647" height="1"/><rect x="0" y="930" width="1647" height="1"/><rect x="1647" y="51" width="2" height="1"/><rect x="1647" y="84" width="2" height="1"/><rect x="1647" y="117" width="2" height="1"/><rect x="1647" y="150" width="2" height="1"/><rect x="1647" y="183" width="2" height="1"/><rect x="1647" y="216" width="2" height="1"/><rect x="1647" y="249" width="2" height="1"/><rect x="1647" y="282" width="2" height="1"/><rect x="1647" y="315" width="2" height="1"/><rect x="1647" y="348" width="2" height="1"/><rect x="1647" y="381" width="2" height="1"/><rect x="1647" y="414" width="2" height="1"/><rect x="1647" y="447" width="2" height="1"/><rect x="1647" y="480" width="2" height="1"/><rect x="1647" y="513" width="2" height="1"/><rect x="1647" y="546" width="2" height="1"/><rect x="1647" y="579" width="2" height="1"/><rect x="1647" y="586" width="1" height="1"/><rect x="1647" y="658" width="1" height="1"/><rect x="1647" y="753" width="1" height="1"/><rect x="1647" y="757" width="1" height="1"/><rect x="1647" y="792" width="1" height="1"/><rect x="1647" y="843" width="1" height="1"/><rect x="1647" y="904" width="1" height="1"/><rect x="1647" y="929" width="1" height="1"/><rect x="51" y="931" width="1" height="3"/><rect x="115" y="931" width="1" height="3"/><rect x="179" y="931" width="1" height="3"/><rect x="243" y="931" width="1" height="3"/><rect x="307" y="931" width="1" height="3"/><rect x="371" y="931" width="1" height="3"/><rect x="435" y="931" width="1" height="3"/><rect x="499" y="931" width="1" height="3"/><rect x="563" y="931" width="1" height="3"/><rect x="627" y="931" width="1" height="3"/><rect x="691" y="931" width="1" height="3"/><rect x="755" y="931" width="1" height="3"/><rect x="819" y="931" width="1" height="3"/><rect x="883" y="931" width="1" height="3"/><rect x="947" y="931" width="1" height="3"/><rect x="1011" y="931" width="1" height="3"/><rect x="1075" y="931" width="1" height="3"/><rect x="1139" y="931" width="1" height="3"/><rect x="1203" y="931" width="1" height="3"/><rect x="1267" y="931" width="1" height="3"/><rect x="1331" y="931" width="1" height="3"/><rect x="1395" y="931" width="1" height="3"/></g><polygon points="1441,30 1450,30 1445.5,35" fill="#c0c0c0"/><text x="1652" y="56" font-size="10" fill="#000" font-family="Liberation Sans, Arial, sans-serif" textLength="32.5" lengthAdjust="spacingAndGlyphs" >116.370</text><text x="1652" y="89" font-size="10" fill="#000" font-family="Liberation Sans, Arial, sans-serif" textLength="32.5" lengthAdjust="spacingAndGlyphs" >116.165</text><text x="1652" y="122" font-size="10" fill="#000" font-family="Liberation Sans, Arial, sans-serif" textLength="32.5" lengthAdjust="spacingAndGlyphs" >115.960</text><text x="1652" y="155" font-size="10" fill="#000" font-family="Liberation Sans, Arial, sans-serif" textLength="32.5" lengthAdjust="spacingAndGlyphs" >115.750</text><text x="1652" y="188" font-size="10" fill="#000" font-family="Liberation Sans, Arial, sans-serif" textLength="32.5" lengthAdjust="spacingAndGlyphs" >115.545</text><text x="1652" y="221" font-size="10" fill="#000" font-family="Liberation Sans, Arial, sans-serif" textLength="32.5" lengthAdjust="spacingAndGlyphs" >115.340</text><text x="1652" y="254" font-size="10" fill="#000" font-family="Liberation Sans, Arial, sans-serif" textLength="32.5" lengthAdjust="spacingAndGlyphs" >115.130</text><text x="1652" y="287" font-size="10" fill="#000" font-family="Liberation Sans, Arial, sans-serif" textLength="32.5" lengthAdjust="spacingAndGlyphs" >114.925</text><text x="1652" y="320" font-size="10" fill="#000" font-family="Liberation Sans, Arial, sans-serif" textLength="32.5" lengthAdjust="spacingAndGlyphs" >114.720</text><text x="1652" y="353" font-size="10" fill="#000" font-family="Liberation Sans, Arial, sans-serif" textLength="32.5" lengthAdjust="spacingAndGlyphs" >114.510</text><text x="1652" y="386" font-size="10" fill="#000" font-family="Liberation Sans, Arial, sans-serif" textLength="32.5" lengthAdjust="spacingAndGlyphs" >114.305</text><text x="1652" y="419" font-size="10" fill="#000" font-family="Liberation Sans, Arial, sans-serif" textLength="32.5" lengthAdjust="spacingAndGlyphs" >114.100</text><text x="1652" y="452" font-size="10" fill="#000" font-family="Liberation Sans, Arial, sans-serif" textLength="32.5" lengthAdjust="spacingAndGlyphs" >113.890</text><text x="1652" y="485" font-size="10" fill="#000" font-family="Liberation Sans, Arial, sans-serif" textLength="32.5" lengthAdjust="spacingAndGlyphs" >113.685</text><text x="1652" y="518" font-size="10" fill="#000" font-family="Liberation Sans, Arial, sans-serif" textLength="32.5" lengthAdjust="spacingAndGlyphs" >113.480</text><text x="1652" y="551" font-size="10" fill="#000" font-family="Liberation Sans, Arial, sans-serif" textLength="32.5" lengthAdjust="spacingAndGlyphs" >113.270</text><text x="1652" y="584" font-size="10" fill="#000" font-family="Liberation Sans, Arial, sans-serif" textLength="32.5" lengthAdjust="spacingAndGlyphs" >113.065</text><text x="1650" y="595.6" font-size="10" fill="#000" font-family="Liberation Sans, Arial, sans-serif" textLength="27.5" lengthAdjust="spacingAndGlyphs" >0.3584</text><text x="1650" y="662" font-size="10" fill="#000" font-family="Liberation Sans, Arial, sans-serif" textLength="17.5" lengthAdjust="spacingAndGlyphs" >0.00</text><text x="1650" y="751" font-size="10" fill="#000" font-family="Liberation Sans, Arial, sans-serif" textLength="30.5" lengthAdjust="spacingAndGlyphs" >-0.4734</text><text x="1650" y="767" font-size="10" fill="#000" font-family="Liberation Sans, Arial, sans-serif" textLength="15.3" lengthAdjust="spacingAndGlyphs" >100</text><text x="1650" y="796" font-size="10" fill="#000" font-family="Liberation Sans, Arial, sans-serif" textLength="10.2" lengthAdjust="spacingAndGlyphs" >80</text><text x="1650" y="847" font-size="10" fill="#000" font-family="Liberation Sans, Arial, sans-serif" textLength="10.2" lengthAdjust="spacingAndGlyphs" >50</text><text x="1650" y="908" font-size="10" fill="#000" font-family="Liberation Sans, Arial, sans-serif" textLength="10.2" lengthAdjust="spacingAndGlyphs" >15</text><text x="1650" y="927" font-size="10" fill="#000" font-family="Liberation Sans, Arial, sans-serif" textLength="5.1" lengthAdjust="spacingAndGlyphs" >0</text><g shape-rendering="crispEdges"><rect x="1648" y="256" width="41" height="11" fill="#ff0000"/><rect x="1648" y="284" width="41" height="11" fill="#ff0000"/><rect x="1648" y="316" width="41" height="11" fill="#000000"/><rect x="1648" y="328" width="41" height="11" fill="#32cd32"/><rect x="1648" y="360" width="41" height="11" fill="#0000ff"/><rect x="1648" y="391" width="41" height="11" fill="#0000ff"/></g><text x="1652.5" y="265.5" font-size="10" fill="#fff" font-family="Liberation Sans, Arial, sans-serif" textLength="32.5" lengthAdjust="spacingAndGlyphs" >115.050</text><text x="1652.5" y="293.5" font-size="10" fill="#fff" font-family="Liberation Sans, Arial, sans-serif" textLength="32.5" lengthAdjust="spacingAndGlyphs" >114.875</text><text x="1652.5" y="325.5" font-size="10" fill="#fff" font-family="Liberation Sans, Arial, sans-serif" textLength="32.5" lengthAdjust="spacingAndGlyphs" >114.678</text><text x="1652.5" y="337.5" font-size="10" fill="#fff" font-family="Liberation Sans, Arial, sans-serif" textLength="32.5" lengthAdjust="spacingAndGlyphs" >114.600</text><text x="1652.5" y="369.5" font-size="10" fill="#fff" font-family="Liberation Sans, Arial, sans-serif" textLength="32.5" lengthAdjust="spacingAndGlyphs" >114.400</text><text x="1652.5" y="400.5" font-size="10" fill="#fff" font-family="Liberation Sans, Arial, sans-serif" textLength="32.5" lengthAdjust="spacingAndGlyphs" >114.206</text><g shape-rendering="crispEdges"><rect x="1641.5" y="260.5" width="4" height="4" fill="#fff" stroke="#ff0000" stroke-width="1"/><rect x="1641.5" y="288.5" width="4" height="4" fill="#fff" stroke="#ff0000" stroke-width="1"/><rect x="1641.5" y="332.5" width="4" height="4" fill="#fff" stroke="#32cd32" stroke-width="1"/><rect x="1641.5" y="364.5" width="4" height="4" fill="#fff" stroke="#0000ff" stroke-width="1"/><rect x="1641.5" y="395.5" width="4" height="4" fill="#fff" stroke="#0000ff" stroke-width="1"/></g><g shape-rendering="crispEdges"><rect x="1036.5" y="253.5" width="61" height="18" fill="#fff" stroke="#ff0000"/><rect x="964.5" y="505.5" width="61" height="18" fill="#fff" stroke="#ff0000"/><rect x="1025" y="514" width="10" height="1" fill="#ff0000"/><rect x="1244.5" y="507.5" width="61" height="18" fill="#fff" stroke="#ff0000"/><rect x="1306" y="516" width="9" height="1" fill="#ff0000"/><rect x="1270.5" y="322.5" width="73" height="24" fill="#fff" stroke="#ff0000"/><rect x="1260" y="334" width="8" height="1" fill="#ff0000"/><rect x="1267.5" y="332.5" width="2" height="3" fill="#fff" stroke="#ff0000"/></g><text x="1039.5" y="269" font-size="16.5" fill="#ff0000" font-family="Liberation Sans, Arial, sans-serif" textLength="56.5" lengthAdjust="spacingAndGlyphs" >115.050</text><text x="967.5" y="521" font-size="16.5" fill="#ff0000" font-family="Liberation Sans, Arial, sans-serif" textLength="56.5" lengthAdjust="spacingAndGlyphs" >113.475</text><text x="1247.5" y="523" font-size="16.5" fill="#ff0000" font-family="Liberation Sans, Arial, sans-serif" textLength="56.5" lengthAdjust="spacingAndGlyphs" >113.463</text><text x="1272.5" y="343" font-size="22" fill="#ff0000" font-family="Liberation Sans, Arial, sans-serif" textLength="69.5" lengthAdjust="spacingAndGlyphs" >114.600</text><g stroke="#ff0000" fill="none" stroke-linecap="butt"><line x1="1314.5" y1="512.5" x2="1462.5" y2="328" stroke-width="3.9"/><line x1="1311.5" y1="691.5" x2="1441" y2="643.5" stroke-width="3.5"/><line x1="1309" y1="868" x2="1450" y2="813.5" stroke-width="3.5"/></g><g fill="#ff0000"><polygon points="1466.8,319.2 1469.2,321.6 1465.2,333 1456.6,326.4"/><polygon points="1435.2,640.4 1436.6,638.8 1447.2,638.8 1448.6,640.4 1439.2,649.2"/><polygon points="1444.2,810.4 1445.6,808.8 1456.2,808.8 1457.6,810.4 1448.4,819.2"/></g><rect x="1372" y="332" width="134" height="8" fill="#00ff00" shape-rendering="crispEdges"/><text x="2.5" y="41" font-size="10" fill="#000" font-family="Liberation Sans, Arial, sans-serif" textLength="200.5" lengthAdjust="spacingAndGlyphs" >USDJPY-,H4&#160;&#160;114.526 114.683 114.395 114.678</text><text x="-7.5" y="597" font-size="10" fill="#000" font-family="Liberation Sans, Arial, sans-serif" textLength="129.5" lengthAdjust="spacingAndGlyphs" >MACD(12,26,9) 0.0726 -0.0468</text><text x="-4.5" y="769" font-size="10" fill="#000" font-family="Liberation Sans, Arial, sans-serif" textLength="63.3" lengthAdjust="spacingAndGlyphs" >RSI(14) 67.6331</text><text x="51" y="943" font-size="10" fill="#000" font-family="Liberation Sans, Arial, sans-serif" textLength="54.4" lengthAdjust="spacingAndGlyphs" >17 Dec 00:00</text><text x="115" y="943" font-size="10" fill="#000" font-family="Liberation Sans, Arial, sans-serif" textLength="54.4" lengthAdjust="spacingAndGlyphs" >20 Dec 08:00</text><text x="179" y="943" font-size="10" fill="#000" font-family="Liberation Sans, Arial, sans-serif" textLength="54.4" lengthAdjust="spacingAndGlyphs" >21 Dec 16:00</text><text x="243" y="943" font-size="10" fill="#000" font-family="Liberation Sans, Arial, sans-serif" textLength="54.4" lengthAdjust="spacingAndGlyphs" >23 Dec 00:00</text><text x="307" y="943" font-size="10" fill="#000" font-family="Liberation Sans, Arial, sans-serif" textLength="54.4" lengthAdjust="spacingAndGlyphs" >24 Dec 08:00</text><text x="371" y="943" font-size="10" fill="#000" font-family="Liberation Sans, Arial, sans-serif" textLength="54.4" lengthAdjust="spacingAndGlyphs" >27 Dec 16:00</text><text x="435" y="943" font-size="10" fill="#000" font-family="Liberation Sans, Arial, sans-serif" textLength="54.4" lengthAdjust="spacingAndGlyphs" >29 Dec 00:00</text><text x="499" y="943" font-size="10" fill="#000" font-family="Liberation Sans, Arial, sans-serif" textLength="54.4" lengthAdjust="spacingAndGlyphs" >30 Dec 08:00</text><text x="563" y="943" font-size="10" fill="#000" font-family="Liberation Sans, Arial, sans-serif" textLength="54.4" lengthAdjust="spacingAndGlyphs" >31 Dec 16:00</text><text x="627" y="943" font-size="10" fill="#000" font-family="Liberation Sans, Arial, sans-serif" textLength="47.8" lengthAdjust="spacingAndGlyphs" >4 Jan 00:00</text><text x="691" y="943" font-size="10" fill="#000" font-family="Liberation Sans, Arial, sans-serif" textLength="47.8" lengthAdjust="spacingAndGlyphs" >5 Jan 08:00</text><text x="755" y="943" font-size="10" fill="#000" font-family="Liberation Sans, Arial, sans-serif" textLength="47.8" lengthAdjust="spacingAndGlyphs" >6 Jan 16:00</text><text x="819" y="943" font-size="10" fill="#000" font-family="Liberation Sans, Arial, sans-serif" textLength="52.9" lengthAdjust="spacingAndGlyphs" >10 Jan 00:00</text><text x="883" y="943" font-size="10" fill="#000" font-family="Liberation Sans, Arial, sans-serif" textLength="52.2" lengthAdjust="spacingAndGlyphs" >11 Jan 08:00</text><text x="947" y="943" font-size="10" fill="#000" font-family="Liberation Sans, Arial, sans-serif" textLength="52.9" lengthAdjust="spacingAndGlyphs" >12 Jan 16:00</text><text x="1011" y="943" font-size="10" fill="#000" font-family="Liberation Sans, Arial, sans-serif" textLength="52.9" lengthAdjust="spacingAndGlyphs" >14 Jan 00:00</text><text x="1075" y="943" font-size="10" fill="#000" font-family="Liberation Sans, Arial, sans-serif" textLength="52.9" lengthAdjust="spacingAndGlyphs" >17 Jan 08:00</text><text x="1139" y="943" font-size="10" fill="#000" font-family="Liberation Sans, Arial, sans-serif" textLength="52.9" lengthAdjust="spacingAndGlyphs" >18 Jan 16:00</text><text x="1203" y="943" font-size="10" fill="#000" font-family="Liberation Sans, Arial, sans-serif" textLength="52.9" lengthAdjust="spacingAndGlyphs" >20 Jan 00:00</text><text x="1267" y="943" font-size="10" fill="#000" font-family="Liberation Sans, Arial, sans-serif" textLength="52.9" lengthAdjust="spacingAndGlyphs" >21 Jan 08:00</text><text x="1331" y="943" font-size="10" fill="#000" font-family="Liberation Sans, Arial, sans-serif" textLength="52.9" lengthAdjust="spacingAndGlyphs" >24 Jan 16:00</text><text x="1395" y="943" font-size="10" fill="#000" font-family="Liberation Sans, Arial, sans-serif" textLength="52.9" lengthAdjust="spacingAndGlyphs" >26 Jan 00:00</text><text x="-14.399999999999999" y="943" font-size="10" fill="#000" font-family="Liberation Sans, Arial, sans-serif" textLength="51.9" lengthAdjust="spacingAndGlyphs" >16 Dec 2021</text><defs><linearGradient id="gTop" x1="0" y1="0" x2="0" y2="1"><stop offset="0" stop-color="#5c5cff"/><stop offset="1" stop-color="#3a3ae6"/></linearGradient><linearGradient id="gBot" x1="0" y1="0" x2="0" y2="1"><stop offset="0" stop-color="#3228de"/><stop offset="1" stop-color="#0000b4"/></linearGradient><linearGradient id="gBtn" x1="0" y1="0" x2="0" y2="1"><stop offset="0" stop-color="#f2f2f2"/><stop offset="0.33" stop-color="#ebebeb"/><stop offset="0.34" stop-color="#dcdcdc"/><stop offset="1" stop-color="#d2d2d2"/></linearGradient></defs><g shape-rendering="crispEdges"><rect x="0" y="73" width="99" height="33" fill="url(#gBot)"/><rect x="38" y="73" width="61" height="1" fill="#0000a0"/><rect x="0" y="49" width="42" height="24" fill="url(#gTop)"/><rect x="0" y="49" width="42" height="1" fill="#0000a0"/><rect x="41" y="49" width="1" height="25" fill="#0000a0"/><rect x="0" y="72" width="38" height="1" fill="#0000a0"/><rect x="0" y="73" width="38" height="1" fill="#8a8aff"/><rect x="101" y="73" width="108" height="33" fill="url(#gBot)"/><rect x="101" y="73" width="57" height="1" fill="#0000a0"/><rect x="157" y="49" width="52" height="24" fill="url(#gTop)"/><rect x="157" y="49" width="52" height="1" fill="#0000a0"/><rect x="157" y="49" width="1" height="25" fill="#0000a0"/><rect x="208" y="49" width="1" height="57" fill="#0000a0"/><rect x="161" y="72" width="45" height="1" fill="#0000a0"/><rect x="161" y="73" width="45" height="1" fill="#8a8aff"/><rect x="44.5" y="49.5" width="110" height="21" fill="#fff" stroke="#a8a8a8"/><rect x="46" y="51" width="18" height="18" fill="url(#gBtn)"/><rect x="65" y="50" width="1" height="20" fill="#b0b0b0"/><rect x="135" y="51" width="18" height="18" fill="url(#gBtn)"/><rect x="133" y="50" width="1" height="20" fill="#b0b0b0"/></g><polygon points="52,57.8 57.2,57.8 54.6,61" fill="#4a64c8"/><polygon points="141,61 146.2,61 143.6,57.8" fill="#4a64c8"/><text x="106.5" y="64.5" font-size="12" fill="#000" font-family="Liberation Sans, Arial, sans-serif" textLength="23.5" lengthAdjust="spacingAndGlyphs" >1.00</text><text x="2.5" y="65" font-size="12.5" fill="#fff" font-family="Liberation Sans, Arial, sans-serif" textLength="25.5" lengthAdjust="spacingAndGlyphs" >SELL</text><text x="170.5" y="65" font-size="12.5" fill="#fff" font-family="Liberation Sans, Arial, sans-serif" textLength="23.5" lengthAdjust="spacingAndGlyphs" >BUY</text><text x="13.5" y="101" font-size="12.5" fill="#fff" font-family="Liberation Sans, Arial, sans-serif" textLength="21" lengthAdjust="spacingAndGlyphs" font-weight="bold" >114</text><text x="37.5" y="101" font-size="34" fill="#fff" font-family="Liberation Sans, Arial, sans-serif" textLength="35" lengthAdjust="spacingAndGlyphs" >67</text><text x="77" y="84.8" font-size="12.2" fill="#fff" font-family="Liberation Sans, Arial, sans-serif" textLength="7.2" lengthAdjust="spacingAndGlyphs" font-weight="bold" >8</text><text x="123.5" y="101" font-size="12.5" fill="#fff" font-family="Liberation Sans, Arial, sans-serif" textLength="21" lengthAdjust="spacingAndGlyphs" font-weight="bold" >114</text><text x="149" y="101" font-size="34" fill="#fff" font-family="Liberation Sans, Arial, sans-serif" textLength="35" lengthAdjust="spacingAndGlyphs" >69</text><text x="188" y="84.8" font-size="12.2" fill="#fff" font-family="Liberation Sans, Arial, sans-serif" textLength="7.2" lengthAdjust="spacingAndGlyphs" font-weight="bold" >6</text></svg>
</div></body></html>
